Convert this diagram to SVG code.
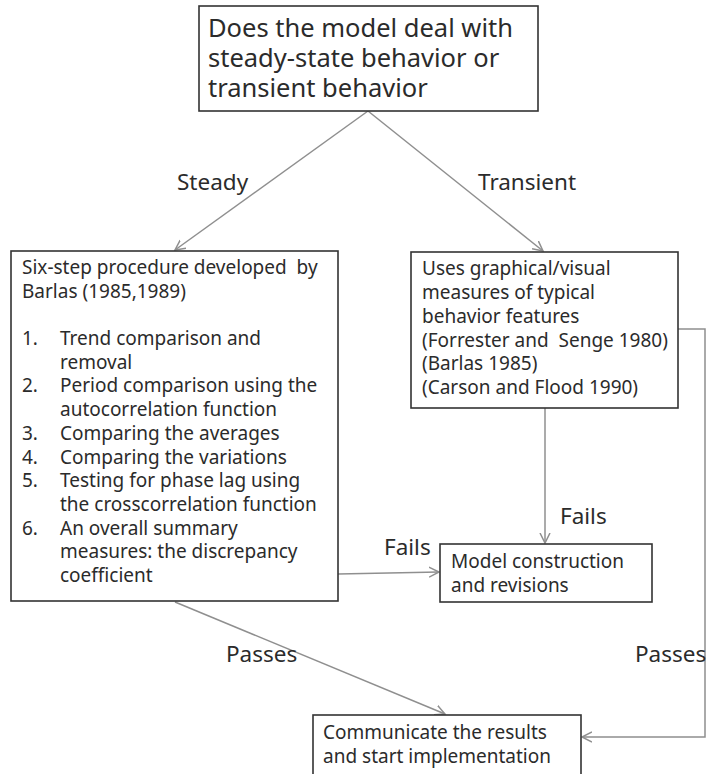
<svg xmlns="http://www.w3.org/2000/svg" width="708" height="774" viewBox="0 0 708 774">
<style>
.box{fill:#fff;stroke:#333;stroke-width:1.6}
.t{font-family:"Noto Sans","Open Sans",sans-serif;font-size:19px;fill:#2b2b2b;white-space:pre}
.big{font-size:25.5px}
.lbl{font-family:"Noto Sans","Open Sans",sans-serif;font-size:22.5px;fill:#2b2b2b}
.c{fill:none;stroke:#8f8f8f;stroke-width:1.5}
</style>
<defs>
<marker id="ah" markerUnits="userSpaceOnUse" markerWidth="12" markerHeight="12" refX="10" refY="5" orient="auto" viewBox="0 0 12 10">
<path d="M0,0 L10,5 L0,10" fill="none" stroke="#8f8f8f" stroke-width="1.5"/>
</marker>
</defs>
<g id="connectors">
<line class="c" x1="368" y1="111" x2="175" y2="250" marker-end="url(#ah)"/>
<line class="c" x1="368" y1="111" x2="543" y2="251" marker-end="url(#ah)"/>
<line class="c" x1="338" y1="574" x2="439" y2="572" marker-end="url(#ah)"/>
<line class="c" x1="545" y1="408" x2="545" y2="543" marker-end="url(#ah)"/>
<line class="c" x1="175" y1="602" x2="445" y2="714" marker-end="url(#ah)"/>
<polyline class="c" points="678,329 705,329 705,737 582,737" marker-end="url(#ah)"/>
<text class="lbl" x="177" y="190">Steady</text>
<text class="lbl" x="478" y="190">Transient</text>
<text class="lbl" x="384" y="555">Fails</text>
<text class="lbl" x="560" y="524">Fails</text>
<text class="lbl" x="226" y="662">Passes</text>
<text class="lbl" x="635" y="662">Passes</text>
</g>
<g id="question">
<rect class="box" x="199" y="6" width="339" height="105"/>
<text class="t big" x="208" y="37">Does the model deal with</text>
<text class="t big" x="208" y="67">steady-state behavior or</text>
<text class="t big" x="208" y="97">transient behavior</text>
</g>
<g id="steady">
<rect class="box" x="11" y="251" width="327" height="350"/>
<text class="t" x="22" y="274">Six-step procedure developed  by</text>
<text class="t" x="22" y="298">Barlas (1985,1989)</text>
<text class="t" x="22" y="345">1.</text><text class="t" x="60" y="345">Trend comparison and</text>
<text class="t" x="60" y="368.7">removal</text>
<text class="t" x="22" y="392.4">2.</text><text class="t" x="60" y="392.4">Period comparison using the</text>
<text class="t" x="60" y="416.1">autocorrelation function</text>
<text class="t" x="22" y="439.8">3.</text><text class="t" x="60" y="439.8">Comparing the averages</text>
<text class="t" x="22" y="463.5">4.</text><text class="t" x="60" y="463.5">Comparing the variations</text>
<text class="t" x="22" y="487.2">5.</text><text class="t" x="60" y="487.2">Testing for phase lag using</text>
<text class="t" x="60" y="510.9">the crosscorrelation function</text>
<text class="t" x="22" y="534.6">6.</text><text class="t" x="60" y="534.6">An overall summary</text>
<text class="t" x="60" y="558.3">measures: the discrepancy</text>
<text class="t" x="60" y="582">coefficient</text>
</g>
<g id="transient">
<rect class="box" x="411" y="252" width="267" height="156"/>
<text class="t" x="422" y="275">Uses graphical/visual</text>
<text class="t" x="422" y="299">measures of typical</text>
<text class="t" x="422" y="323">behavior features</text>
<text class="t" x="422" y="347">(Forrester and  Senge 1980)</text>
<text class="t" x="422" y="370">(Barlas 1985)</text>
<text class="t" x="422" y="394">(Carson and Flood 1990)</text>
</g>
<g id="revisions">
<rect class="box" x="440" y="544" width="212" height="58"/>
<text class="t" x="451" y="568">Model construction</text>
<text class="t" x="451" y="592">and revisions</text>
</g>
<g id="implement">
<rect class="box" x="313" y="715" width="268" height="62"/>
<text class="t" x="323" y="739">Communicate the results</text>
<text class="t" x="323" y="763">and start implementation</text>
</g>
</svg>
